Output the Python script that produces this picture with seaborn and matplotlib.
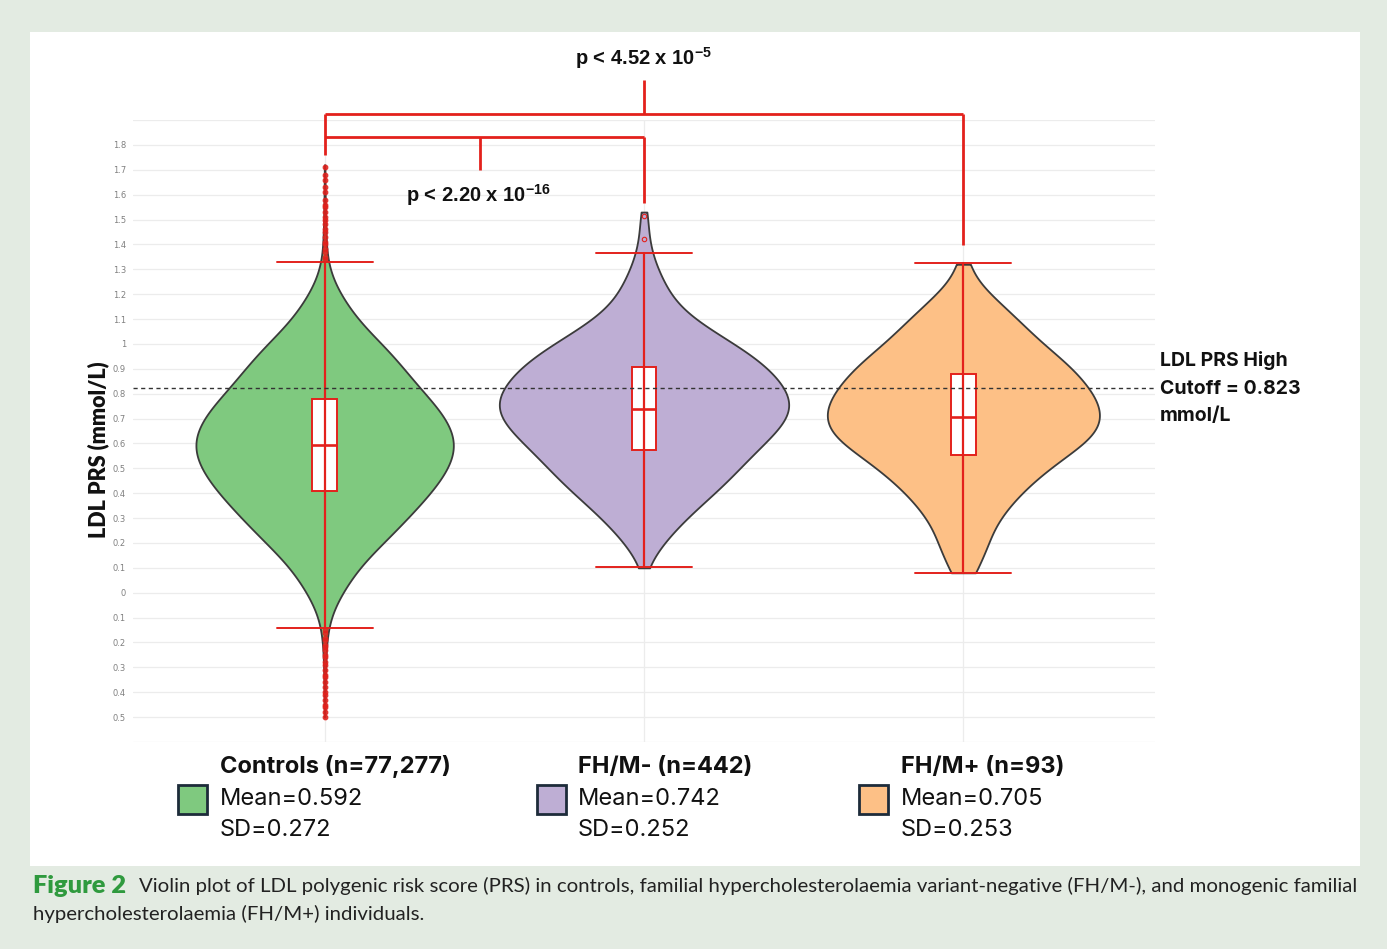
import numpy as np
import pandas as pd
import matplotlib
matplotlib.use("Agg")
import matplotlib.pyplot as plt
import seaborn as sns
from matplotlib.patches import Rectangle

# ---------------- data ----------------
groups = ["Controls", "FH/M-", "FH/M+"]
group_titles = ["Controls (n=77,277)", "FH/M- (n=442)", "FH/M+ (n=93)"]
group_means = ["Mean=0.592", "Mean=0.742", "Mean=0.705"]
group_sds = ["SD=0.272", "SD=0.252", "SD=0.253"]
colors = ["#7fc97f", "#beaed4", "#fdc086"]

# violin outline: relative density (half-width) read at each PRS level
ctrl_levels = [-0.50, -0.45, -0.40, -0.35, -0.30, -0.25, -0.20, -0.15, -0.10, -0.05,
               0.00, 0.05, 0.10, 0.15, 0.20, 0.25, 0.30, 0.35, 0.40, 0.45,
               0.50, 0.55, 0.60, 0.65, 0.70, 0.75, 0.80, 0.85, 0.90, 0.95,
               1.00, 1.05, 1.10, 1.15, 1.20, 1.25, 1.30, 1.35, 1.40, 1.45,
               1.50, 1.55, 1.60, 1.65, 1.72]
ctrl_density = [2, 1, 2, 2, 3, 4, 6, 9, 18, 32,
                55, 78, 105, 140, 180, 218, 255, 290, 325, 355,
                380, 397, 403, 393, 372, 344, 306, 274, 243, 212,
                176, 135, 100, 73, 48, 28, 14, 7, 5, 4,
                3, 2, 2, 1, 2]

fhm_neg_levels = [0.10, 0.15, 0.20, 0.25, 0.30, 0.35, 0.40, 0.45, 0.50, 0.55,
                  0.60, 0.65, 0.70, 0.75, 0.80, 0.85, 0.90, 0.95, 1.00, 1.05,
                  1.10, 1.15, 1.20, 1.25, 1.30, 1.35, 1.40, 1.45, 1.50, 1.53]
fhm_neg_density = [12, 30, 60, 92, 130, 170, 215, 255, 290, 325,
                   365, 405, 438, 453, 440, 415, 380, 335, 275, 210,
                   150, 105, 78, 60, 42, 27, 18, 13, 10, 10]

fhm_pos_levels = [0.08, 0.15, 0.20, 0.25, 0.30, 0.35, 0.40, 0.45, 0.50,
                  0.55, 0.60, 0.65, 0.70, 0.75, 0.80, 0.85, 0.90, 0.95, 1.00,
                  1.05, 1.10, 1.15, 1.20, 1.25, 1.32]
fhm_pos_density = [62, 72, 76, 88, 112, 140, 176, 215, 262,
                   313, 375, 415, 426, 418, 398, 368, 335, 292, 240,
                   203, 165, 125, 80, 45, 30]

# box-plot summaries
box_median = [0.595, 0.739, 0.707]
box_q1 = [0.410, 0.574, 0.554]
box_q3 = [0.780, 0.906, 0.881]
whisker_low = [-0.14, 0.104, 0.080]
whisker_high = [1.330, 1.365, 1.325]
ctrl_outliers = [1.34, 1.35, 1.37, 1.38, 1.40, 1.41, 1.43, 1.45, 1.46, 1.48, 1.50,
                 1.51, 1.53, 1.55, 1.56, 1.58, 1.61, 1.63, 1.66, 1.68, 1.71,
                 -0.15, -0.16, -0.18, -0.19, -0.21, -0.22, -0.23, -0.25, -0.26,
                 -0.28, -0.29, -0.31, -0.33, -0.34, -0.36, -0.38, -0.40, -0.41,
                 -0.43, -0.45, -0.46, -0.48, -0.50]
fhm_neg_outliers = [1.42, 1.515]

cutoff = 0.823
ytick_values = [1.8, 1.7, 1.6, 1.5, 1.4, 1.3, 1.2, 1.1, 1.0, 0.9, 0.8, 0.7, 0.6, 0.5,
                0.4, 0.3, 0.2, 0.1, 0.0, -0.1, -0.2, -0.3, -0.4, -0.5]
ytick_labels = ["1.8", "1.7", "1.6", "1.5", "1.4", "1.3", "1.2", "1.1", "1", "0.9",
                "0.8", "0.7", "0.6", "0.5", "0.4", "0.3", "0.2", "0.1", "0", "0.1",
                "0.2", "0.3", "0.4", "0.5"]

# ---------------- build sample table ----------------
frames = []
for g, lv, dn in [(groups[0], ctrl_levels, ctrl_density),
                  (groups[1], fhm_neg_levels, fhm_neg_density),
                  (groups[2], fhm_pos_levels, fhm_pos_density)]:
    frames.append(pd.DataFrame({"group": g, "value": np.repeat(lv, dn)}))
df = pd.concat(frames, ignore_index=True)

# ---------------- figure ----------------
sns.set_theme(style="white")
plt.rcParams["mathtext.default"] = "regular"
plt.rcParams["font.family"] = ["DejaVu Sans"]

W, H = 1387, 949
fig = plt.figure(figsize=(W / 100, H / 100), dpi=100)
fig.patch.set_facecolor("#e3ebe2")


def fx(px):
    return px / W


def fy(py):
    return 1 - py / H


fig.add_artist(Rectangle((fx(30), fy(866)), fx(1360) - fx(30), fy(32) - fy(866),
                         transform=fig.transFigure, facecolor="white",
                         edgecolor="none", zorder=0))

ax = fig.add_axes([fx(133), fy(742), fx(1155) - fx(133), fy(120) - fy(742)])
ax.set_facecolor("none")

violin_widths = [0.806, 0.906, 0.852]
kernel_bw = 0.058
for i, g in enumerate(groups):
    sub = df[df["group"] == g]
    sns.violinplot(data=sub, x="group", y="value", order=groups,
                   color=colors[i], saturation=1, width=violin_widths[i], cut=0,
                   inner=None, bw_method=kernel_bw / sub["value"].std(), gridsize=400,
                   linewidth=1.3, linecolor="#3b3b3b", density_norm="width", ax=ax)

RED = "#e3211c"
positions = [0, 1, 2]
stats = [dict(med=m, q1=a, q3=b, whislo=lo, whishi=hi, fliers=[])
         for m, a, b, lo, hi in zip(box_median, box_q1, box_q3, whisker_low, whisker_high)]
ax.bxp(stats, positions=positions, widths=0.078, capwidths=0.30, showfliers=False,
       patch_artist=True, manage_ticks=False, zorder=3,
       boxprops=dict(facecolor="white", edgecolor=RED, linewidth=1.4),
       medianprops=dict(color=RED, linewidth=1.9),
       whiskerprops=dict(color=RED, linewidth=1.6),
       capprops=dict(color=RED, linewidth=1.4))
ax.vlines(positions, box_q1, box_q3, color=RED, linewidth=1.6, zorder=3.5)
ax.plot([0] * len(ctrl_outliers), ctrl_outliers, "o", mfc=RED, mec=RED, ms=3.4,
        mew=0.8, alpha=0.85, zorder=4, clip_on=False)
ax.plot([1] * len(fhm_neg_outliers), fhm_neg_outliers, "o", mfc="none", mec=RED,
        ms=3.2, mew=0.8, zorder=4)

# cutoff line
ax.axhline(cutoff, color="#333333", linewidth=1.0, linestyle=(0, (3, 2.5)), zorder=5)

# axes styling
ax.set_xlim(-0.6, 2.6)
ax.set_ylim(-0.6, 1.9)
ax.set_yticks(ytick_values)
ax.set_yticklabels(ytick_labels)
ax.set_yticks([v / 100 for v in range(-60, 195, 10)], minor=True)
ax.set_xticks(positions)
ax.set_xticklabels([])
ax.set_xlabel("")
ax.set_ylabel("")
ax.tick_params(axis="y", which="both", length=0, pad=5, labelsize=6, labelcolor="#808080")
ax.tick_params(axis="x", length=0)
ax.grid(axis="y", which="both", color="#ececec", linewidth=0.9)
ax.grid(axis="x", which="major", color="#ececec", linewidth=0.9)
ax.set_axisbelow(True)
for s in ax.spines.values():
    s.set_visible(False)

# significance brackets
bk = dict(color=RED, linewidth=2.0, clip_on=False, zorder=6, solid_capstyle="butt")
ax.plot([0, 2], [1.924, 1.924], **bk)
ax.plot([0, 0], [1.924, 1.759], **bk)
ax.plot([2, 2], [1.924, 1.398], **bk)
ax.plot([1, 1], [1.924, 2.060], **bk)
ax.plot([0, 1], [1.831, 1.831], **bk)
ax.plot([1, 1], [1.831, 1.566], **bk)
ax.plot([0.485, 0.485], [1.831, 1.699], **bk)
pfont = dict(family=["Liberation Sans"], weight="bold", size=14.5, color="#111111",
             ha="center", va="center")
ax.text(1.0, 2.149, "p < 4.52 x 10$^{-5}$", clip_on=False, **pfont)
ax.text(0.48, 1.598, "p < 2.20 x 10$^{-16}$", clip_on=False, **pfont)

# y label
fig.text(fx(98), fy(450), "LDL PRS (mmol/L)", rotation=90, ha="center", va="center",
         family=["Lato", "DejaVu Sans"], weight="heavy", size=15.5, color="#111111")

# cutoff label
cfont = dict(family=["Inter", "DejaVu Sans"], weight="bold", size=14,
             color="#111111", ha="left", va="center")
fig.text(fx(1160), fy(361), "LDL PRS High", **cfont)
fig.text(fx(1160), fy(389), "Cutoff = 0.823", **cfont)
fig.text(fx(1160), fy(416), "mmol/L", **cfont)

# legend blocks
sq_x = [178, 537, 859]
txt_x = [220, 578, 901]
for i in range(3):
    fig.add_artist(Rectangle((fx(sq_x[i]), fy(814)), fx(29), 29 / H,
                             transform=fig.transFigure, facecolor=colors[i],
                             edgecolor="#1d2b3a", linewidth=2.0, zorder=5))
    fig.text(fx(txt_x[i]), fy(767), group_titles[i], ha="left", va="center",
             family=["Inter", "DejaVu Sans"], weight="bold", size=17, color="#111111")
    fig.text(fx(txt_x[i]), fy(799), group_means[i], ha="left", va="center",
             family=["Inter", "DejaVu Sans"], size=17, color="#111111")
    fig.text(fx(txt_x[i]), fy(830), group_sds[i], ha="left", va="center",
             family=["Inter", "DejaVu Sans"], size=17, color="#111111")

# caption
fig.text(fx(33), fy(886), "Figure 2", ha="left", va="center", family=["Lato"],
         weight="heavy", size=18.3, color="#2f9a3e")
fig.text(fx(139), fy(886),
         "Violin plot of LDL polygenic risk score (PRS) in controls, familial "
         "hypercholesterolaemia variant-negative (FH/M-), and monogenic familial",
         ha="left", va="center", family=["Lato"], size=14.7, color="#222222")
fig.text(fx(33), fy(914), "hypercholesterolaemia (FH/M+) individuals.",
         ha="left", va="center", family=["Lato"], size=14.7, color="#222222")

fig.savefig("out.png", dpi=100, facecolor=fig.get_facecolor())
